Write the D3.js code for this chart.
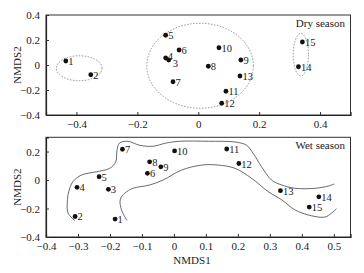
<!DOCTYPE html>
<html>
<head>
<meta charset="utf-8">
<script src="https://cdn.jsdelivr.net/npm/d3@7"></script>
<style>
  body { margin: 0; background: #fff; }
  svg text { font-family: "Liberation Serif", "Times New Roman", serif; fill: #222; }
</style>
</head>
<body>
<svg width="364" height="273"></svg>
<script>
// dry season points (NMDS1, NMDS2)
var dryIds = [1, 2, 3, 4, 5, 6, 7, 8, 9, 10, 11, 12, 13, 14, 15];
var dryX = [-0.435, -0.353, -0.097, -0.107, -0.107, -0.063, -0.083, 0.033, 0.14, 0.068, 0.091, 0.077, 0.137, 0.329, 0.342];
var dryY = [0.032, -0.078, 0.04, 0.056, 0.238, 0.12, -0.134, -0.01, 0.04, 0.138, -0.21, -0.306, -0.088, -0.014, 0.184];

// dry season groups: centre x, centre y, radius x, radius y
var groupCx = [-0.391, 0.006, 0.337];
var groupCy = [-0.026, -0.006, 0.082];
var groupRx = [0.075, 0.175, 0.025];
var groupRy = [0.10, 0.34, 0.17];

// wet season points
var wetIds = [1, 2, 3, 4, 5, 6, 7, 8, 9, 10, 11, 12, 13, 14, 15];
var wetX = [-0.184, -0.309, -0.205, -0.303, -0.234, -0.083, -0.161, -0.076, -0.041, 0.002, 0.165, 0.203, 0.333, 0.453, 0.423];
var wetY = [-0.274, -0.256, -0.065, -0.051, 0.023, 0.047, 0.216, 0.128, 0.093, 0.204, 0.218, 0.116, -0.075, -0.118, -0.19];

// wet season band outline
var outerX = [-0.310, -0.331, -0.333, -0.329, -0.316, -0.289, -0.242, -0.201, -0.182, -0.178, -0.170, -0.144, -0.107, -0.066, -0.024, 0.018, 0.108, 0.191, 0.227, 0.248, 0.274, 0.305, 0.337, 0.378, 0.441, 0.483, 0.501];
var outerY = [-0.284, -0.232, -0.139, -0.082, -0.012, 0.035, 0.058, 0.082, 0.128, 0.209, 0.26, 0.272, 0.244, 0.237, 0.26, 0.272, 0.272, 0.267, 0.244, 0.186, 0.093, 0, -0.035, -0.058, -0.058, -0.042, -0.028];
var innerX = [-0.147, -0.164, -0.168, -0.154, -0.128, -0.076, -0.034, 0.024, 0.087, 0.139, 0.191, 0.243, 0.295, 0.337, 0.378, 0.430, 0.472, 0.493, 0.508];
var innerY = [-0.284, -0.209, -0.139, -0.093, -0.058, -0.035, 0, 0.07, 0.105, 0.105, 0.082, 0.012, -0.082, -0.139, -0.209, -0.251, -0.26, -0.232, -0.202];

var dryTicksX = [-0.4, -0.2, 0, 0.2, 0.4];
var dryTicksY = [-0.4, -0.2, 0, 0.2, 0.4];
var wetTicksX = [-0.4, -0.3, -0.2, -0.1, 0, 0.1, 0.2, 0.3, 0.4, 0.5];
var wetTicksY = [-0.4, -0.2, 0, 0.2];

var svg = d3.select("svg");
var fmt = function(d){ return d === 0 ? "0" : d3.format(".1f")(d).replace("-", "\u2212"); };

function panel(top, bottom, xd, yd, xt, yt, title){
  var x = d3.scaleLinear().domain(xd).range([46, 350.5]);
  var y = d3.scaleLinear().domain(yd).range([bottom, top]);
  var g = svg.append("g");

  g.append("rect")
    .attr("x", 46).attr("y", top)
    .attr("width", 304.5).attr("height", bottom - top)
    .attr("fill", "none").attr("stroke", "#333").attr("stroke-width", 1);

  var ax = g.append("g").attr("transform", "translate(0," + bottom + ")")
    .call(d3.axisBottom(x).tickValues(xt).tickSize(-3).tickPadding(5).tickFormat(fmt));
  var ay = g.append("g").attr("transform", "translate(46,0)")
    .call(d3.axisLeft(y).tickValues(yt).tickSize(-3).tickPadding(6).tickFormat(fmt));
  [ax, ay].forEach(function(a){
    a.select(".domain").attr("stroke", "#222").attr("stroke-width", 1.2);
    a.selectAll(".tick line").attr("stroke", "#333");
    a.selectAll("text").attr("font-size", 11).attr("font-family", "Liberation Serif").attr("fill", "#222");
  });

  g.append("text")
    .attr("transform", "translate(21," + ((top + bottom) / 2) + ") rotate(-90)")
    .attr("text-anchor", "middle").attr("font-size", 11).attr("fill", "#222")
    .text("NMDS2");

  g.append("text")
    .attr("x", 345).attr("y", top + 12)
    .attr("text-anchor", "end").attr("font-size", 11).attr("fill", "#222")
    .text(title);

  return {g: g, x: x, y: y};
}

function points(p, ids, xs, ys, nudge){
  var g = p.g.append("g");
  g.selectAll("circle").data(ids).enter().append("circle")
    .attr("cx", function(d, i){ return p.x(xs[i]); })
    .attr("cy", function(d, i){ return p.y(ys[i]); })
    .attr("r", 2.4).attr("fill", "#111");
  g.selectAll("text").data(ids).enter().append("text")
    .attr("x", function(d, i){ return p.x(xs[i]) + 2.5 + (nudge[d] ? nudge[d][0] : 0); })
    .attr("y", function(d, i){ return p.y(ys[i]) + 4 + (nudge[d] ? nudge[d][1] : 0); })
    .attr("font-size", 10.5)
    .style("fill", "#222")
    .text(function(d){ return String(d); });
}

// dry season
var top1 = panel(15, 115, [-0.5, 0.5], [-0.4, 0.4], dryTicksX, dryTicksY, "Dry season");
top1.g.selectAll("ellipse").data(groupCx).enter().append("ellipse")
  .attr("cx", function(d){ return top1.x(d); })
  .attr("cy", function(d, i){ return top1.y(groupCy[i]); })
  .attr("rx", function(d, i){ return top1.x(d + groupRx[i]) - top1.x(d); })
  .attr("ry", function(d, i){ return top1.y(groupCy[i]) - top1.y(groupCy[i] + groupRy[i]); })
  .attr("fill", "none").attr("stroke", "#777").attr("stroke-width", 0.8)
  .attr("stroke-dasharray", "1.5,1.5");
// labels 3 and 4 sit on top of each other in the original
points(top1, dryIds, dryX, dryY, {3: [1.5, 2.5], 4: [-0.5, -2]});

// wet season
var bot = panel(137.3, 237, [-0.4, 0.552], [-0.4, 0.3], wetTicksX, wetTicksY, "Wet season");
var line = d3.line().curve(d3.curveCatmullRom)
  .x(function(d){ return bot.x(d[0]); })
  .y(function(d){ return bot.y(d[1]); });
[[outerX, outerY], [innerX, innerY]].forEach(function(c){
  bot.g.append("path")
    .attr("d", line(d3.zip(c[0], c[1])))
    .attr("fill", "none").attr("stroke", "#444").attr("stroke-width", 0.8);
});
points(bot, wetIds, wetX, wetY, {});

svg.append("text")
  .attr("x", 192).attr("y", 264)
  .attr("text-anchor", "middle").attr("font-size", 11).attr("fill", "#222")
  .text("NMDS1");
</script>
</body>
</html>
